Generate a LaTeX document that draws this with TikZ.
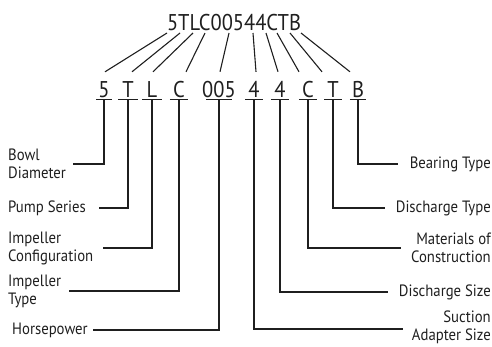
\documentclass[tikz,border=0pt]{standalone}
\usepackage{fontspec}
\setmainfont[FakeStretch=0.9]{PT Sans}
\definecolor{ink}{gray}{0.12}
\begin{document}
\begin{tikzpicture}[x=1pt,y=-1pt,
  codefont/.style={font=\fontsize{22.8}{24}\selectfont, text=ink},
  code/.style={codefont, inner sep=0pt, anchor=base},
  digit/.style={codefont, inner xsep=0pt, inner ysep=0pt, text height=25pt, text depth=2pt, anchor=base},
  lbl/.style={font=\fontsize{16.4}{18}\selectfont, text=ink, inner sep=0pt},
  lleft/.style={lbl, anchor=west, align=left},
  lright/.style={lbl, anchor=east, align=right},
  conn/.style={line width=1.1pt, draw=ink}
]
\useasboundingbox (0,0) rectangle (492,346);
% top code
\node[code] (code) at (234,30) {5TLC00544CTB};
\coordinate (c1) at (167,33);
\coordinate (c2) at (180,33);
\coordinate (c3) at (193,33);
\coordinate (c4) at (205,33);
\coordinate (c5) at (229,33);
\coordinate (c6) at (253,33);
\coordinate (c7) at (266,33);
\coordinate (c8) at (277,33);
\coordinate (c9) at (290,33);
\coordinate (c10) at (301,33);
% second row
\node[digit] (d1) at (104,97) {\makebox[15pt]{5}};
\node[digit] (d2) at (128,97) {\makebox[19pt]{T}};
\node[digit] (d3) at (152,97) {\makebox[19pt]{L}};
\node[digit] (d4) at (179,97) {\makebox[18pt]{C}};
\node[digit] (d5) at (219,97) {\makebox[25pt]{005}};
\node[digit] (d6) at (254,97) {\makebox[17pt]{4}};
\node[digit] (d7) at (280,97) {\makebox[18pt]{4}};
\node[digit] (d8) at (308,97) {\makebox[18pt]{C}};
\node[digit] (d9) at (333,97) {\makebox[17pt]{T}};
\node[digit] (d10) at (358,97) {\makebox[16pt]{B}};
\foreach \n in {d1,d2,d3,d4,d5,d6,d7,d8,d9,d10}
  \draw[conn] (\n.south west) -- (\n.south east);
% slanted connectors
\draw[conn] (c1) -- ([xshift=1pt]d1.north);
\draw[conn] (c2) -- ([xshift=4pt]d2.north);
\draw[conn] (c3) -- ([xshift=1pt]d3.north);
\draw[conn] (c4) -- ([xshift=7pt]d4.north);
\draw[conn] (c5) -- ([xshift=1pt]d5.north);
\draw[conn] (c6) -- ([xshift=2pt]d6.north);
\draw[conn] (c7) -- ([xshift=-2pt]d7.north);
\draw[conn] (c8) -- ([xshift=-9pt]d8.north);
\draw[conn] (c9) -- ([xshift=-11pt]d9.north);
\draw[conn] (c10) -- ([xshift=-8pt]d10.north);
% labels left
\node[lleft] (l1) at (8,164) {Bowl\\Diameter};
\node[lleft] (l2) at (8,208) {Pump Series};
\node[lleft] (l3) at (8,248) {Impeller\\Configuration};
\node[lleft] (l4) at (8,291) {Impeller\\Type};
\node[lleft] (l5) at (12,330) {Horsepower};
% labels right
\node[lright] (r1) at (491,164) {Bearing Type};
\node[lright] (r2) at (491,208) {Discharge Type};
\node[lright] (r3) at (491,248) {Materials of\\Construction};
\node[lright] (r4) at (491,292) {Discharge Size};
\node[lright] (r5) at (491,327) {Suction\\Adapter Size};
% elbow connectors
\draw[conn] (d1.south) |- ([xshift=7pt]l1.east);
\draw[conn] (d2.south) |- ([xshift=13pt]l2.east);
\draw[conn] (d3.south) |- ([xshift=10pt]l3.east);
\draw[conn] (d4.south) |- ([xshift=8pt]l4.east);
\draw[conn] (d5.south) |- ([xshift=5pt]l5.east);
\draw[conn] (d10.south) |- ([xshift=-12pt]r1.west);
\draw[conn] (d9.south) |- ([xshift=-11pt]r2.west);
\draw[conn] (d8.south) |- ([xshift=-10pt]r3.west);
\draw[conn] (d7.south) |- ([xshift=-11pt]r4.west);
\draw[conn] (d6.south) |- ([xshift=-9pt,yshift=-2pt]r5.west);
\end{tikzpicture}
\end{document}
